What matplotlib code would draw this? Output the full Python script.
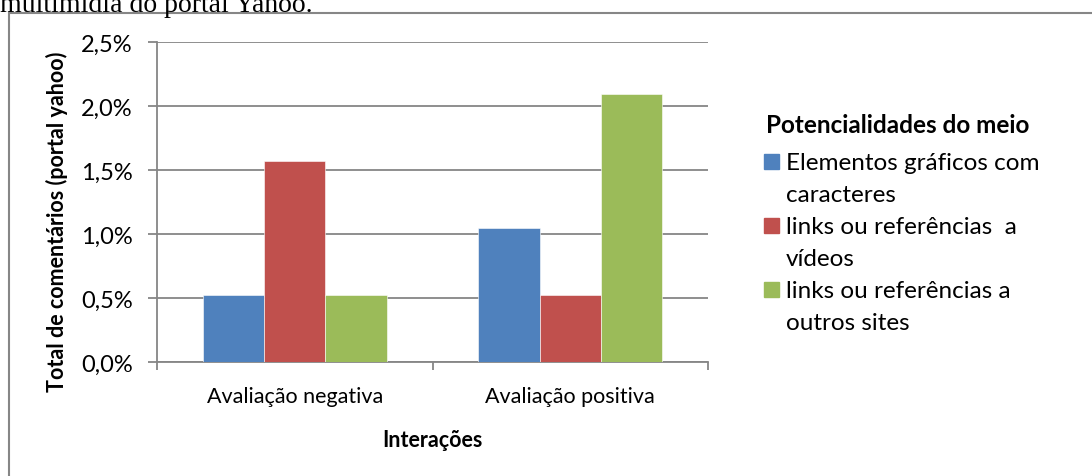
import matplotlib
matplotlib.use("Agg")
import matplotlib.pyplot as plt
from matplotlib.patches import Rectangle
from matplotlib.ticker import FuncFormatter, FixedLocator
import numpy as np

# Data (percent of comments, portal Yahoo)
categories = ["Avaliação negativa", "Avaliação positiva"]
series_names = [
    "Elementos gráficos com\ncaracteres",
    "links ou referências  a\nvídeos",
    "links ou referências a\noutros sites",
]
values = [
    [0.52, 1.05],   # Elementos gráficos com caracteres
    [1.57, 0.52],   # links ou referências a vídeos
    [0.52, 2.09],   # links ou referências a outros sites
]
yticks = [0.0, 0.5, 1.0, 1.5, 2.0, 2.5]
colors = ["#4F81BD", "#C0504D", "#9BBB59"]
grey = "#868686"

FONT = ["Lato", "DejaVu Sans"]
plt.rcParams["font.family"] = FONT

W, H = 1092, 477
fig = plt.figure(figsize=(W / 100, H / 100), dpi=100)


def fx(px):
    return px / W


def fy(py):
    return 1 - py / H


# outer chart frame
fig.patches.append(Rectangle((fx(8.5), -0.1), 1.2, fy(13.5) + 0.1,
                             transform=fig.transFigure, fill=False,
                             edgecolor=grey, lw=1.5))

# caption fragment above the chart
fig.text(0.0, fy(12), "multimídia do portal Yahoo.", family="Liberation Serif",
         fontsize=20, va="baseline", ha="left", color="black")

ax_left, ax_right, ax_top, ax_bottom = 157, 708, 43, 363
ax = fig.add_axes([fx(ax_left), fy(ax_bottom), (ax_right - ax_left) / W,
                   (ax_bottom - ax_top) / H])

n = len(series_names)
gap = 1.5
w = 1 / (n + gap)
x = np.arange(len(categories))
for i, (name, vals) in enumerate(zip(series_names, values)):
    offs = (i - (n - 1) / 2) * w
    ax.bar(x + offs, vals, width=w, color=colors[i], zorder=3,
           edgecolor="white", linewidth=0.4)

ax.set_xlim(-0.5, len(categories) - 0.5)
ax.set_ylim(0, 2.5)
ax.yaxis.set_major_locator(FixedLocator(yticks))
ax.yaxis.set_major_formatter(FuncFormatter(lambda v, p: f"{v:.1f}%".replace(".", ",")))
ax.grid(axis="y", color=grey, lw=1.3, zorder=0)
ax.set_axisbelow(True)

ax.set_xticks(x)
ax.set_xticklabels(categories)
ax.set_xticks(np.arange(len(categories) + 1) - 0.5, minor=True)
ax.tick_params(axis="x", which="major", length=0, pad=17, labelsize=15.5)
ax.tick_params(axis="x", which="minor", length=6, width=1.3, color=grey)
ax.tick_params(axis="y", length=6.5, width=1.3, color=grey, pad=11, labelsize=17)

for s in ["top", "right"]:
    ax.spines[s].set_visible(False)
for s in ["left", "bottom"]:
    ax.spines[s].set_color(grey)
    ax.spines[s].set_linewidth(1.3)

ax.set_xlabel("Interações", fontsize=15.5, fontweight="bold", labelpad=17)
ax.set_ylabel("Total de comentários (portal yahoo)", fontsize=15.5,
              fontweight="bold")
ax.yaxis.set_label_coords((57 - ax_left) / (ax_right - ax_left),
                          (ax_bottom - 222) / (ax_bottom - ax_top))
ax.yaxis.label.set_va("center")

# legend
fig.text(fx(766), fy(133), "Potencialidades do meio", fontsize=17.5,
         fontweight="bold", va="baseline", ha="left")
line_pitch = 32
baseline = 170
for i, name in enumerate(series_names):
    fig.patches.append(Rectangle((fx(764), fy(baseline)), 15 / W, 15 / H,
                                 transform=fig.transFigure, color=colors[i]))
    for j, line in enumerate(name.split("\n")):
        fig.text(fx(786), fy(baseline + j * line_pitch), line, fontsize=17.5,
                 va="baseline", ha="left")
    baseline += line_pitch * len(name.split("\n"))

fig.savefig("out.png", dpi=100)
